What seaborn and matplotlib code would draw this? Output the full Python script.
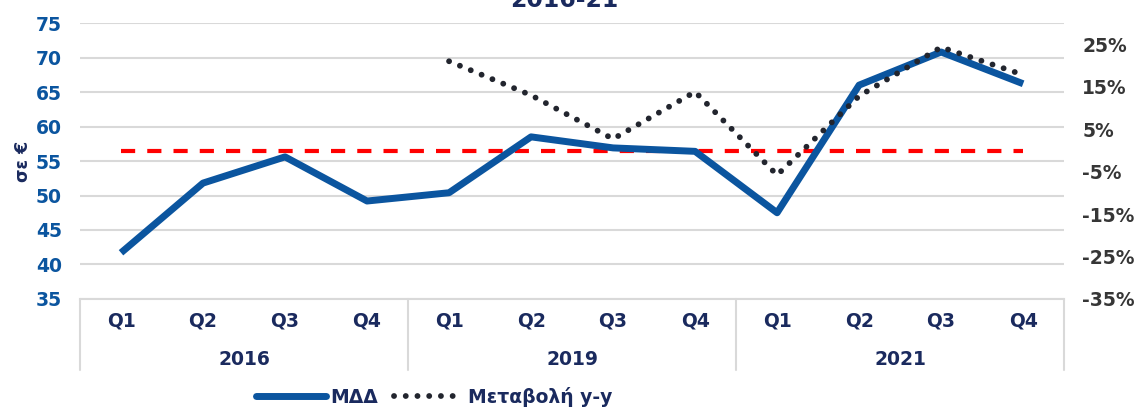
import numpy as np
import pandas as pd
import matplotlib
matplotlib.use("Agg")
import matplotlib.pyplot as plt
import matplotlib.transforms as mtransforms
from matplotlib.lines import Line2D
import seaborn as sns

# data
years = ["2016", "2019", "2021"]
quarters = ["Q1", "Q2", "Q3", "Q4"]
mdd = [41.7, 51.8, 55.6, 49.2, 50.4, 58.5, 56.9, 56.4, 47.5, 66.0, 70.8, 66.2]
yoy = [np.nan, np.nan, np.nan, np.nan, 21.0, 13.0, 2.7, 13.8, -5.8, 12.8, 24.3, 17.8]
avg_level = 56.4

BLUE = "#0b559f"
NAVY = "#1a2a5e"
RED = "#ff0000"
DOTS = "#22252e"
DOT_STYLE = (0, (0.01, 2.0))

sns.set_theme(style="white")
plt.rcParams["font.family"] = ["DejaVu Sans"]

labels = [q for y in years for q in quarters]
df = pd.DataFrame({"pos": np.arange(len(labels)), "ΜΔΔ": mdd, "yoy": yoy,
                   "avg": [avg_level] * len(labels)})

fig = plt.figure(figsize=(11.43, 4.07), dpi=100)
ax = fig.add_axes([0.070, 0.2654, 0.861, 0.678])

ax.grid(axis="y", color="#d9d9d9", lw=1.5)
ax.set_axisbelow(True)

sns.lineplot(data=df, x="pos", y="avg", ax=ax, color=RED, lw=3, zorder=3)
ax.lines[-1].set_dashes([3.4, 2.9])
sns.lineplot(data=df, x="pos", y="ΜΔΔ", ax=ax, color=BLUE, lw=5, zorder=4)
ax.lines[-1].set_solid_capstyle("butt")

ax.set_xlim(-0.5, len(labels) - 0.5)
ax.set_ylim(35, 75)
ax.set_yticks(range(35, 76, 5))
ax.set_xticks(df["pos"])
ax.set_xticklabels(labels, fontsize=13.5, fontweight="bold", color=NAVY)
ax.tick_params(axis="x", length=0, pad=9)
ax.tick_params(axis="y", length=0, pad=13, labelsize=13.5, labelcolor=BLUE)
for t in ax.get_yticklabels():
    t.set_fontweight("bold")
ax.set_xlabel("")
ax.set_ylabel("σε €", fontsize=12.5, fontweight="bold", color=NAVY)
ax.yaxis.set_label_coords(-0.049, 0.5)

for s in ["top", "right", "left"]:
    ax.spines[s].set_visible(False)
ax.spines["bottom"].set_color("#d9d9d9")
ax.spines["bottom"].set_linewidth(1.5)

ax2 = ax.twinx()
sns.lineplot(data=df, x="pos", y="yoy", ax=ax2, color=DOTS, lw=4.2, zorder=5)
dl = ax2.lines[-1]
dl.set_linestyle(DOT_STYLE)
dl.set_dash_capstyle("round")
ax2.set_ylim(-35, 30)
ax2.set_yticks(range(-35, 26, 10))
ax2.set_yticklabels([f"{v}%" for v in range(-35, 26, 10)])
ax2.tick_params(axis="y", length=0, pad=13, labelsize=13.5, labelcolor="#363636")
for t in ax2.get_yticklabels():
    t.set_fontweight("bold")
ax2.set_ylabel("")
ax2.grid(False)
for s in ax2.spines.values():
    s.set_visible(False)

# grouped category axis: separators and year labels
trans = mtransforms.blended_transform_factory(ax.transData, ax.transAxes)
for b in [-0.5, 3.5, 7.5, 11.5]:
    ax.plot([b, b], [0, -0.257], transform=trans, color="#d9d9d9", lw=1.5,
            clip_on=False)
for i, y in enumerate(years):
    ax.text(i * 4 + 1.5, -0.218, y, transform=trans, ha="center", va="center",
            fontsize=13.5, fontweight="bold", color=NAVY)

fig.text(0.4935, 0.983, "2016-21", ha="center", va="baseline", fontsize=17,
         fontweight="bold", color=NAVY)

handles = [Line2D([], [], color=BLUE, lw=5, solid_capstyle="round"),
           Line2D([], [], color=DOTS, lw=4.2, linestyle=DOT_STYLE,
                  dash_capstyle="round")]
leg = fig.legend(handles, ["ΜΔΔ", "Μεταβολή y-y"], loc="center",
                 bbox_to_anchor=(0.380, 0.0246), ncol=2, frameon=False,
                 handlelength=3.7, columnspacing=0.85, handletextpad=0.25,
                 borderpad=0, prop={"size": 13.5, "weight": "bold"})
for t in leg.get_texts():
    t.set_color(NAVY)

fig.savefig("out.png", dpi=100)
